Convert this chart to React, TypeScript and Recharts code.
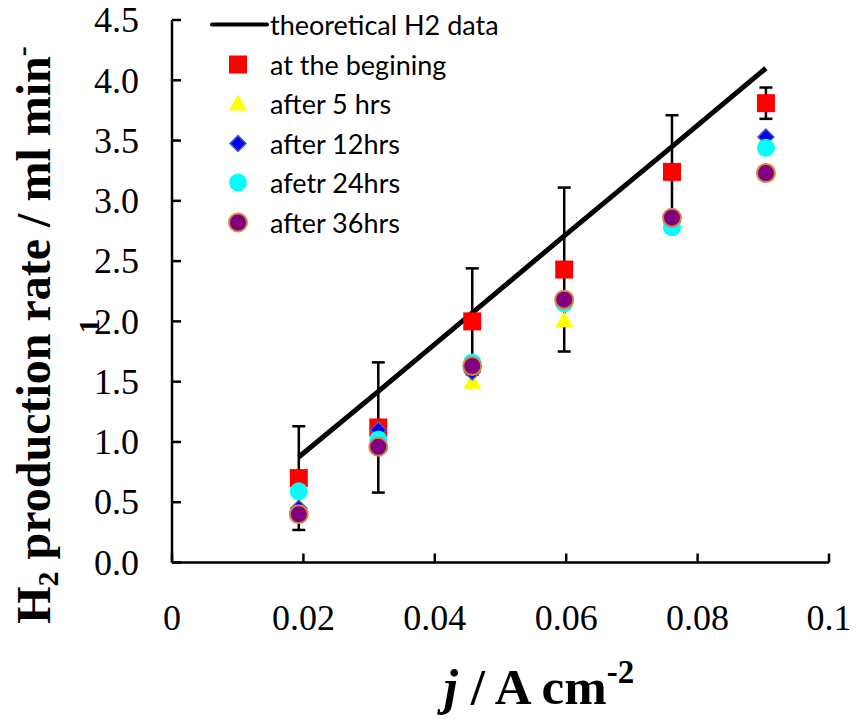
import { ComposedChart, Line, Scatter, XAxis, YAxis, Legend } from "recharts";

// current density j (A cm-2) for each measurement
const jValues = [0.0193, 0.0314, 0.0457, 0.0597, 0.0761, 0.0904];

// H2 production rate (ml min-1)
const theoretical = [0.875, 1.42, 2.07, 2.71, 3.45, 4.1];
const atBeginning = [0.7, 1.12, 2.0, 2.43, 3.24, 3.81];
const beginningError = [0.43, 0.54, 0.44, 0.68, 0.47, 0.13];
const after5hrs = [0.42, 0.98, 1.5, 2.01, 2.83, 3.23];
const after12hrs = [0.45, 1.1, 1.58, 2.16, 2.82, 3.53];
const after24hrs = [0.59, 1.02, 1.66, 2.15, 2.78, 3.44];
const after36hrs = [0.4, 0.96, 1.63, 2.18, 2.86, 3.23];

const xTicks = [0, 0.02, 0.04, 0.06, 0.08, 0.1];
const yTicks = [0, 0.5, 1, 1.5, 2, 2.5, 3, 3.5, 4, 4.5];

const legendOrder = [
  "theoretical H2 data",
  "at the begining",
  "after 5 hrs",
  "after 12hrs",
  "afetr 24hrs",
  "after 36hrs",
];

const rows = jValues.map((j, i) => ({
  j,
  theory: theoretical[i],
  begin: atBeginning[i],
  h5: after5hrs[i],
  h12: after12hrs[i],
  h24: after24hrs[i],
  h36: after36hrs[i],
}));

// error bars of the first series, drawn as series of their own so that
// later markers are painted over them (as in the original)
const errorStems = jValues.flatMap((j, i) => [
  { j, v: atBeginning[i] - beginningError[i] },
  { j, v: atBeginning[i] + beginningError[i] },
  { j, v: null },
]);
const errorCaps = jValues.flatMap((j, i) => [
  { j, v: atBeginning[i] - beginningError[i] },
  { j, v: atBeginning[i] + beginningError[i] },
]);

const SERIF = "'Liberation Serif', 'Times New Roman', serif";
const TICK_LEN = 9;
const X_TICK_GAP = 67.5;
const Y_TICK_GAP = 33;

// marker shapes, used both in the plot and in the legend
const Square = ({ cx, cy }: any) => (
  <rect x={cx - 9} y={cy - 9} width={18} height={18} fill="#FF0000" />
);
const Triangle = ({ cx, cy }: any) => (
  <polygon points={`${cx},${cy - 9} ${cx + 9},${cy + 7} ${cx - 9},${cy + 7}`} fill="#FFFF00" />
);
const Diamond = ({ cx, cy }: any) => (
  <polygon
    points={`${cx},${cy - 8} ${cx + 8},${cy} ${cx},${cy + 8} ${cx - 8},${cy}`}
    fill="#0000FF"
    stroke="#5B5B9E"
    strokeWidth={1.5}
  />
);
const CyanDot = ({ cx, cy }: any) => <circle cx={cx} cy={cy} r={9} fill="#00FFFF" />;
const PurpleDot = ({ cx, cy }: any) => (
  <circle cx={cx} cy={cy} r={9} fill="#800080" stroke="#D4883E" strokeWidth={2} />
);
const Cap = ({ cx, cy }: any) => (
  <line x1={cx - 6.5} y1={cy} x2={cx + 6.5} y2={cy} stroke="#000" strokeWidth={2.5} />
);

const legendIcons: Record<string, (p: any) => any> = {
  "at the begining": Square,
  "after 5 hrs": Triangle,
  "after 12hrs": Diamond,
  "afetr 24hrs": CyanDot,
  "after 36hrs": PurpleDot,
};

const renderLegend = (props: any) => {
  const payload = (props.payload || [])
    .filter((e: any) => legendOrder.includes(e.value))
    .sort((a: any, b: any) => legendOrder.indexOf(a.value) - legendOrder.indexOf(b.value));
  return (
    <div style={{ fontFamily: "Lato, 'Open Sans', sans-serif", fontSize: 27, color: "#000" }}>
      {payload.map((entry: any) => {
        const Icon = legendIcons[entry.value];
        return (
          <div key={entry.value} style={{ height: 39.5, display: "flex", alignItems: "center" }}>
            <svg width={60} height={39} style={{ display: "block" }}>
              {Icon ? (
                <Icon cx={28} cy={19.5} />
              ) : (
                <line x1={2} y1={19.5} x2={57} y2={19.5} stroke="#000" strokeWidth={4} strokeLinecap="round" />
              )}
            </svg>
            <span style={{ whiteSpace: "nowrap", lineHeight: 1 }}>{entry.value}</span>
          </div>
        );
      })}
    </div>
  );
};

// ticks point inwards, so they are drawn here instead of with tickLine
const XTick = ({ x, y, payload }: any) => {
  const axisY = y - X_TICK_GAP;
  return (
    <g>
      <line x1={x} y1={axisY} x2={x} y2={axisY - TICK_LEN} stroke="#000" strokeWidth={2.5} />
      <text x={x} y={y} textAnchor="middle" fontFamily={SERIF} fontSize={36} fill="#000">
        {String(payload.value)}
      </text>
    </g>
  );
};

const YTick = ({ x, y, payload }: any) => {
  const axisX = x + Y_TICK_GAP;
  return (
    <g>
      <line x1={axisX} y1={y} x2={axisX + TICK_LEN} y2={y} stroke="#000" strokeWidth={2.5} />
      <text x={x} y={y} dy="0.34em" textAnchor="end" fontFamily={SERIF} fontSize={36} fill="#000">
        {Number(payload.value).toFixed(1)}
      </text>
    </g>
  );
};

const YTitle = () => (
  <g fontFamily={SERIF} fontWeight="bold" fill="#000">
    <text x={50} y={335} transform="rotate(-90 50 335)" textAnchor="middle" fontSize={48}>
      H
      <tspan dy={8} fontSize={30}>2</tspan>
      <tspan dy={-8}> production rate / ml min</tspan>
      <tspan dy={-18} fontSize={30}>-</tspan>
    </text>
    <text x={99} y={326} transform="rotate(-90 99 326)" textAnchor="middle" fontSize={30}>
      1
    </text>
  </g>
);

const XTitle = () => (
  <text x={539} y={704} textAnchor="middle" fontFamily={SERIF} fontWeight="bold" fontSize={51} fill="#000">
    <tspan fontStyle="italic">j</tspan> / A cm
    <tspan dy={-21} fontSize={33}>-2</tspan>
  </text>
);

export default function App() {
  return (
    <div style={{ position: "absolute", left: 0, top: 0, background: "#fff" }}>
      <ComposedChart width={858} height={720} data={rows} margin={{ top: 20, right: 29, bottom: 0, left: 0 }}>
        <XAxis
          dataKey="j"
          type="number"
          domain={[0, 0.1]}
          ticks={xTicks}
          height={157.5}
          stroke="#000"
          strokeWidth={2.5}
          tickLine={false}
          tickSize={0}
          tickMargin={X_TICK_GAP}
          tick={<XTick />}
          label={<XTitle />}
        />
        <YAxis
          type="number"
          domain={[0, 4.5]}
          ticks={yTicks}
          width={172}
          stroke="#000"
          strokeWidth={2.5}
          tickLine={false}
          tickSize={0}
          tickMargin={Y_TICK_GAP}
          tick={<YTick />}
          label={<YTitle />}
        />
        <Legend
          layout="vertical"
          align="center"
          verticalAlign="middle"
          content={renderLegend}
          wrapperStyle={{ left: 210, top: 5, width: "auto", height: "auto" }}
        />
        <Line
          name="theoretical H2 data"
          type="linear"
          dataKey="theory"
          stroke="#000"
          strokeWidth={5}
          dot={false}
          activeDot={false}
          isAnimationActive={false}
        />
        <Line
          name="error"
          data={errorStems}
          dataKey="v"
          type="linear"
          stroke="#000"
          strokeWidth={2.5}
          dot={false}
          activeDot={false}
          connectNulls={false}
          legendType="none"
          isAnimationActive={false}
        />
        <Scatter name="error caps" data={errorCaps} dataKey="v" shape={<Cap />} legendType="none" isAnimationActive={false} />
        <Scatter name="at the begining" dataKey="begin" shape={<Square />} isAnimationActive={false} />
        <Scatter name="after 5 hrs" dataKey="h5" shape={<Triangle />} isAnimationActive={false} />
        <Scatter name="after 12hrs" dataKey="h12" shape={<Diamond />} isAnimationActive={false} />
        <Scatter name="afetr 24hrs" dataKey="h24" shape={<CyanDot />} isAnimationActive={false} />
        <Scatter name="after 36hrs" dataKey="h36" shape={<PurpleDot />} isAnimationActive={false} />
      </ComposedChart>
    </div>
  );
}
